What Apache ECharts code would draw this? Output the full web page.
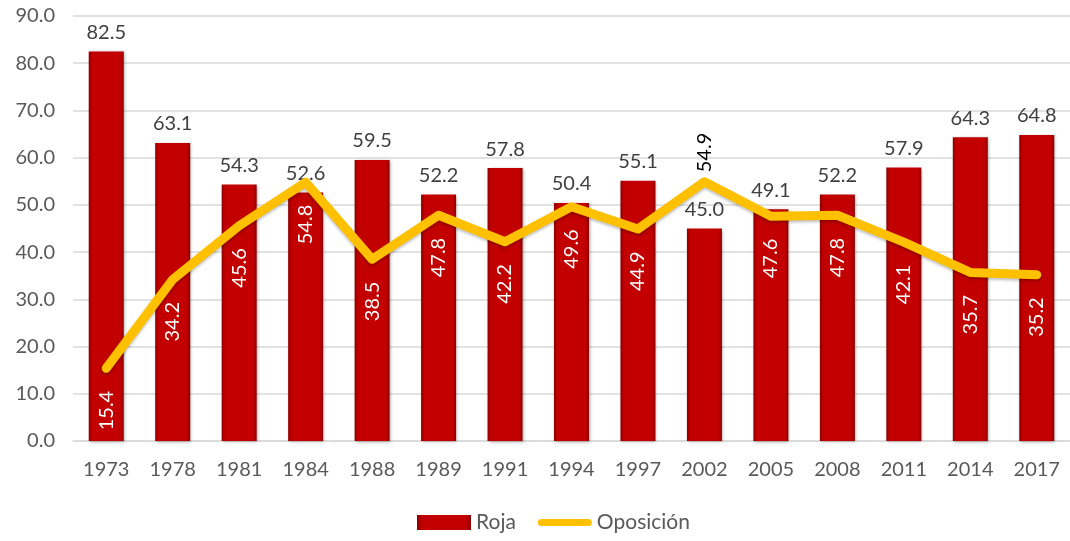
<!DOCTYPE html>
<html>
<head>
<meta charset="utf-8">
<script src="https://cdn.jsdelivr.net/npm/echarts@6/dist/echarts.min.js"></script>
<style>
  html, body { margin: 0; padding: 0; background: #fff; }
  #chart { width: 1070px; height: 541px; }
</style>
</head>
<body>
<div id="chart"></div>
<script>
// datos
var years = ['1973', '1978', '1981', '1984', '1988', '1989', '1991', '1994', '1997', '2002', '2005', '2008', '2011', '2014', '2017'];
var roja = [82.5, 63.1, 54.3, 52.6, 59.5, 52.2, 57.8, 50.4, 55.1, 45.0, 49.1, 52.2, 57.9, 64.3, 64.8];
var oposicion = [15.4, 34.2, 45.6, 54.8, 38.5, 47.8, 42.2, 49.6, 44.9, 54.9, 47.6, 47.8, 42.1, 35.7, 35.2];
var yTicks = [0, 90, 10]; // min, max, intervalo

var font = 'Lato, "Noto Sans", sans-serif';
var myChart = echarts.init(document.getElementById('chart'));

// el valor de 2002 va encima del punto, en negro
var oposData = oposicion.map(function (v, i) {
  if (years[i] === '2002') {
    return {
      value: v,
      label: { position: 'top', align: 'left', distance: 9, color: '#000' }
    };
  }
  return v;
});

var barColor = new echarts.graphic.LinearGradient(0, 0, 1, 0, [
  { offset: 0, color: '#8e0000' },
  { offset: 0.1, color: '#c20000' },
  { offset: 0.9, color: '#c20000' },
  { offset: 1, color: '#8e0000' }
]);

var option = {
  animation: false,
  textStyle: { fontFamily: font },
  grid: { left: 73, right: -2, top: 16, bottom: 100 },
  legend: {
    bottom: 3,
    left: 412,
    itemGap: 22,
    itemWidth: 54,
    itemHeight: 15,
    textStyle: { fontSize: 21, color: '#595959', fontFamily: font },
    data: [
      { name: 'Roja', icon: 'rect', itemStyle: { color: barColor } },
      {
        name: 'Oposición',
        icon: 'path://M4,0 L56,0 A4,4 0 0 1 56,8 L4,8 A4,4 0 0 1 4,0 Z',
        itemStyle: { color: '#ffc000' }
      }
    ]
  },
  xAxis: {
    type: 'category',
    data: years,
    axisTick: { show: false },
    axisLine: { lineStyle: { color: '#d9d9d9', width: 1.5 } },
    axisLabel: { fontSize: 20, color: '#595959', margin: 19 }
  },
  yAxis: {
    type: 'value',
    min: yTicks[0],
    max: yTicks[1],
    interval: yTicks[2],
    axisLabel: {
      fontSize: 20, color: '#595959', margin: 18,
      formatter: function (v) { return v.toFixed(1); }
    },
    splitLine: { lineStyle: { color: '#d9d9d9', width: 1.5 } }
  },
  series: [
    {
      name: 'Roja',
      type: 'bar',
      data: roja,
      barWidth: 35,
      itemStyle: {
        color: barColor,
        shadowColor: 'rgba(0,0,0,0.35)',
        shadowBlur: 3,
        shadowOffsetX: 1,
        shadowOffsetY: 1
      },
      label: {
        show: true,
        position: 'top',
        distance: 9,
        fontSize: 20,
        color: '#404040',
        formatter: function (p) { return p.value.toFixed(1); }
      }
    },
    {
      name: 'Oposición',
      type: 'line',
      data: oposData,
      showSymbol: true,
      symbol: 'circle',
      symbolSize: 1,
      lineStyle: {
        color: '#ffc000',
        width: 9,
        cap: 'round',
        join: 'round',
        shadowColor: 'rgba(0,0,0,0.25)',
        shadowBlur: 3,
        shadowOffsetY: 2
      },
      itemStyle: { color: '#ffc000' },
      label: {
        show: true,
        position: 'bottom',
        rotate: 90,
        align: 'right',
        verticalAlign: 'middle',
        distance: 22,
        fontSize: 20,
        color: '#fff',
        formatter: function (p) { return p.value.toFixed(1); }
      },
      z: 3
    }
  ]
};

myChart.setOption(option);
</script>
</body>
</html>
